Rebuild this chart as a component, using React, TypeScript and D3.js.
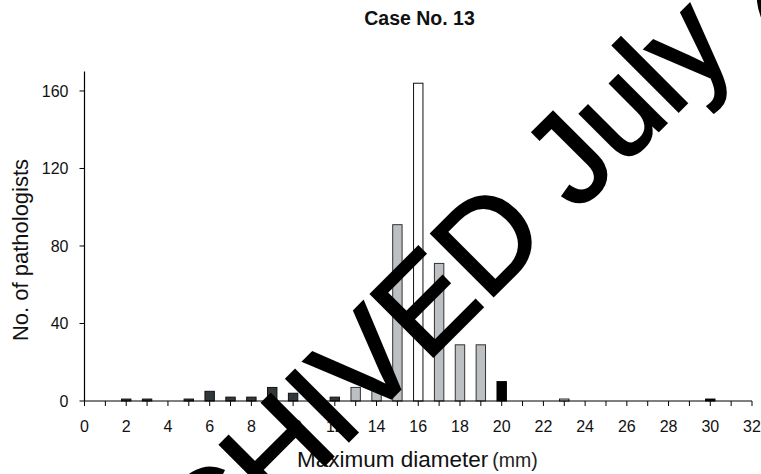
import React from "react";
import * as d3 from "d3";

const W = 761;
const H = 474;

// Data: maximum diameter (mm) -> number of pathologists, grouped by bar style
const darkX = [2, 3, 5, 6, 7, 8, 9, 10, 11, 12];
const darkY = [1, 1, 1, 5, 2, 2, 7, 4, 1, 2];
const grayX = [13, 14, 15, 17, 18, 19];
const grayY = [7, 9, 91, 71, 29, 29];
const whiteX = [16, 23];
const whiteY = [164, 1];
const blackX = [20, 30];
const blackY = [10, 1];

const xTicks = d3.range(0, 33, 1);
const xTickLabels = d3.range(0, 33, 2);
const yTicks = [0, 40, 80, 120, 160];

const title = "Case No. 13";
const yTitle = "No. of pathologists";
const xTitle = "Maximum diameter";
const xUnit = "(mm)";
const watermark = "ARCHIVED July 2010";

export default function App() {
  const x = d3.scaleLinear().domain([0, 32]).range([84.5, 752]);
  const y = d3.scaleLinear().domain([0, 170]).range([401, 71.6]);
  const bw = 9.4;
  const font = "Liberation Sans, Arial, Helvetica, sans-serif";

  const series = [
    { xs: darkX, ys: darkY, fill: "#32373b", stroke: "#111" },
    { xs: grayX, ys: grayY, fill: "#bcc0c2", stroke: "#333" },
    { xs: whiteX, ys: whiteY, fill: "#ffffff", stroke: "#111" },
    { xs: blackX, ys: blackY, fill: "#000000", stroke: "#000" },
  ];

  return (
    <svg
      width={W}
      height={H}
      style={{ position: "absolute", left: 0, top: 0, background: "#fff" }}
      fontFamily={font}
    >
      <rect x={0} y={0} width={W} height={H} fill="#fff" />
      <text x={419.5} y={25} textAnchor="middle" fontWeight="bold" fontSize={19.5} fill="#111">
        {title}
      </text>

      {/* bars */}
      {series.map((s, si) =>
        s.xs.map((xv, i) => (
          <rect
            key={`${si}-${i}`}
            x={x(xv) - bw / 2}
            y={y(s.ys[i])}
            width={bw}
            height={y(0) - y(s.ys[i])}
            fill={s.fill}
            stroke={s.stroke}
            strokeWidth={1}
          />
        ))
      )}

      {/* y axis */}
      <line x1={x(0)} x2={x(0)} y1={y(0)} y2={y(170)} stroke="#000" strokeWidth={1.2} />
      {yTicks.map((t) => (
        <g key={`yt${t}`}>
          <line x1={x(0) - 5} x2={x(0)} y1={y(t)} y2={y(t)} stroke="#000" strokeWidth={1} />
          <text x={x(0) - 16} y={y(t) + 5.8} textAnchor="end" fontSize={16} fill="#111">
            {t}
          </text>
        </g>
      ))}

      {/* x axis */}
      <line x1={x(0)} x2={x(32)} y1={y(0)} y2={y(0)} stroke="#000" strokeWidth={1.2} />
      {xTicks.map((t) => (
        <line key={`xt${t}`} x1={x(t)} x2={x(t)} y1={y(0)} y2={y(0) + 5} stroke="#000" strokeWidth={1} />
      ))}
      {xTickLabels.map((t) => (
        <text key={`xl${t}`} x={x(t)} y={432} textAnchor="middle" fontSize={16} fill="#111">
          {t}
        </text>
      ))}

      <text
        transform={`translate(28,250) rotate(-90)`}
        textAnchor="middle"
        fontSize={22}
        fill="#111"
      >
        {yTitle}
      </text>

      <text x={297} y={467} fontSize={22.5} fill="#111">
        {xTitle}
        <tspan dx={4} fontSize={19.5} fill="#222">
          {xUnit}
        </tspan>
      </text>

      {/* watermark */}
      <text
        transform="translate(84,705.6) rotate(-45)"
        fontSize={128}
        fill="#000"
        stroke="#000"
        strokeWidth={2.5}
        strokeLinejoin="miter"
      >
        {watermark}
      </text>
    </svg>
  );
}
